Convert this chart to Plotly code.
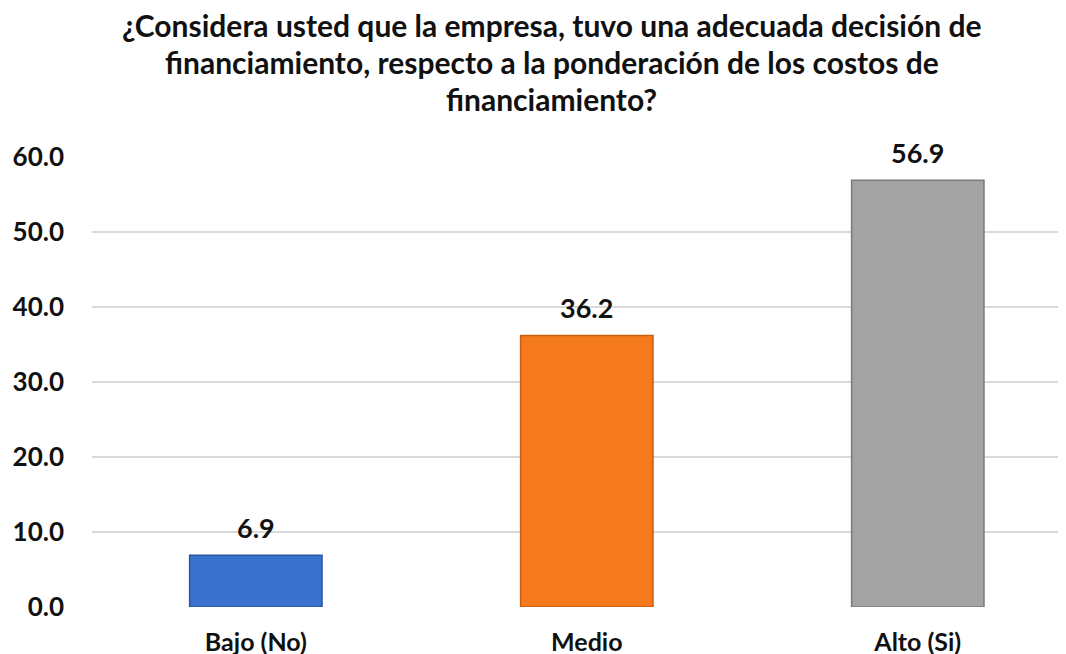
import plotly.graph_objects as go

categories = ["Bajo (No)", "Medio", "Alto (Si)"]
values = [6.9, 36.2, 56.9]
colors = ["#3a72cf", "#f57a1c", "#a3a3a3"]
edge_colors = ["#2a56a0", "#c8600f", "#7a7a7a"]
tick_vals = [0, 10, 20, 30, 40, 50, 60]
tick_text = ["0.0", "10.0", "20.0", "30.0", "40.0", "50.0", "60.0"]

title_lines = ["¿Considera usted que la empresa, tuvo una adecuada decisión de",
               "financiamiento, respecto a la ponderación de los costos de",
               "financiamiento?"]
title_y = [25, 62, 99]

# page has an 8px body offset; plot area: screen x 92..1074, y 157..607
L, T, B = 84, 149, 55
PW = 1066 - L

fig = go.Figure(go.Bar(
    x=categories, y=values, width=0.4,
    marker=dict(color=colors, line=dict(color=edge_colors, width=1.5)),
    cliponaxis=False,
))

for c, v in zip(categories, values):
    fig.add_annotation(x=c, y=v, text=f"<b>{v:.1f}</b>", showarrow=False,
                       yanchor="middle", yshift=28,
                       font=dict(family="Lato", size=27, color="#111111"))

for line, yy in zip(title_lines, title_y):
    fig.add_annotation(text="<b>" + line + "</b>", xref="paper", yref="paper",
                       x=(551.5 - 92) / PW, y=(607 - yy) / 450, xanchor="center", yanchor="middle",
                       showarrow=False, font=dict(family="Lato", size=30, color="#111111"))

fig.update_layout(
    width=1066, height=654,
    paper_bgcolor="white", plot_bgcolor="white",
    margin=dict(l=L, r=0, t=T, b=B, autoexpand=False),
    showlegend=False,
    font=dict(family="Lato"),
)
fig.update_xaxes(range=[-0.495, 2.472], showgrid=False, showline=False, ticks="", automargin=False,
                 ticklabelstandoff=18,
                 tickfont=dict(family="Lato", size=25, color="#111111", weight="bold"))
fig.update_yaxes(range=[0, 60], tickvals=tick_vals, ticktext=tick_text, automargin=False,
                 showgrid=True, gridcolor="#d9d9d9", gridwidth=2, zeroline=False,
                 ticklabelstandoff=27,
                 tickfont=dict(family="Lato", size=26, color="#111111", weight="bold"))
fig.write_html("out.html")
